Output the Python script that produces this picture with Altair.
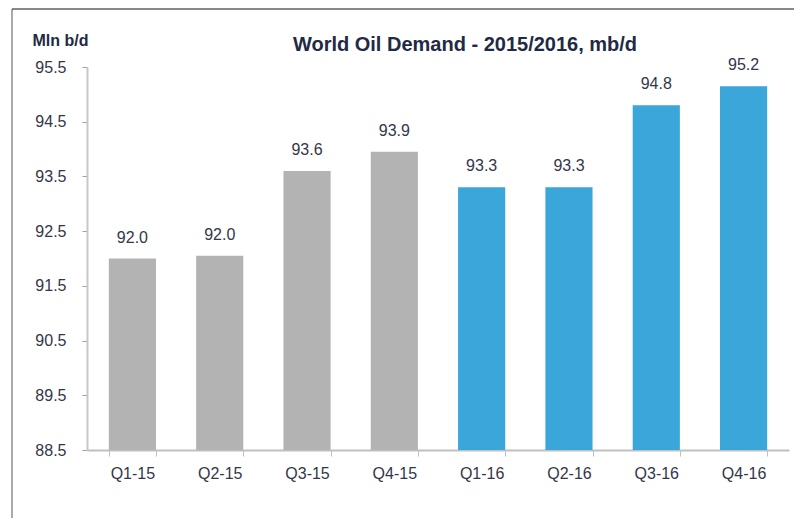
import altair as alt
import pandas as pd

quarters = ["Q1-15", "Q2-15", "Q3-15", "Q4-15", "Q1-16", "Q2-16", "Q3-16", "Q4-16"]
demand = [92.0, 92.05, 93.6, 93.95, 93.3, 93.3, 94.8, 95.15]
labels = ["92.0", "92.0", "93.6", "93.9", "93.3", "93.3", "94.8", "95.2"]
year = ["2015", "2015", "2015", "2015", "2016", "2016", "2016", "2016"]
y_ticks = [88.5, 89.5, 90.5, 91.5, 92.5, 93.5, 94.5, 95.5]
title_text = "World Oil Demand - 2015/2016, mb/d"

df = pd.DataFrame({"q": quarters, "v": demand, "lab": labels, "yr": year})

FONT = "Liberation Sans"
TXT = "#33364a"
x = alt.X("q:N", sort=quarters, title=None,
          scale=alt.Scale(paddingInner=0.46, paddingOuter=0.25),
          axis=alt.Axis(labelAngle=0, labelFontSize=16, labelColor=TXT, labelFont=FONT,
                        domainColor="#c0c0c0", domainWidth=2, tickColor="#c0c0c0",
                        tickSize=6, tickBand="extent", labelPadding=9))
y = alt.Y("v:Q", title="Mln b/d",
          scale=alt.Scale(domain=[88.5, 95.5], nice=False, zero=False),
          axis=alt.Axis(values=y_ticks, format=".1f", grid=False, labelFontSize=16,
                        labelColor=TXT, labelFont=FONT, domainColor="#c8c8c8",
                        domainWidth=2, tickColor="#a0a0a0", tickSize=5, labelPadding=16,
                        titleAngle=0, titleAlign="left", titleBaseline="alphabetic",
                        titleX=-55, titleY=-22, titleFont=FONT, titleFontSize=16,
                        titleFontWeight="bold", titleColor="#1f2a44"))

base = alt.Chart(df)
bars = base.mark_bar(clip=True).encode(
    x=x, y=y,
    color=alt.Color("yr:N", scale=alt.Scale(domain=["2015", "2016"], range=["#b3b3b3", "#3aa6da"]), legend=None),
)
text = base.mark_text(baseline="middle", dy=-21, fontSize=16, font=FONT, color=TXT).encode(
    x=alt.X("q:N", sort=quarters), y="v:Q", text="lab:N"
)
one = pd.DataFrame({"t": [title_text]})
title = alt.Chart(one).mark_text(font=FONT, fontSize=20, fontWeight="bold", color="#1f2a44",
                                 baseline="alphabetic", align="center").encode(
    x=alt.value(378), y=alt.value(-16), text="t:N"
)
frame_top = alt.Chart(one).mark_rule(color="#888888", strokeWidth=2).encode(
    x=alt.value(-75), x2=alt.value(720), y=alt.value(-58)
)
frame_left = alt.Chart(one).mark_rule(color="#555555", strokeWidth=1).encode(
    x=alt.value(-75), y=alt.value(-58), y2=alt.value(460)
)

chart = alt.layer(frame_top, frame_left, bars, text, title).properties(
    width=702, height=383,
    autosize=alt.AutoSizeParams(type="none"),
    padding={"left": 79, "top": 59, "right": 5, "bottom": 68},
).configure_view(stroke=None)

chart.save("out.html", embed_options={"renderer": "svg", "actions": False})
